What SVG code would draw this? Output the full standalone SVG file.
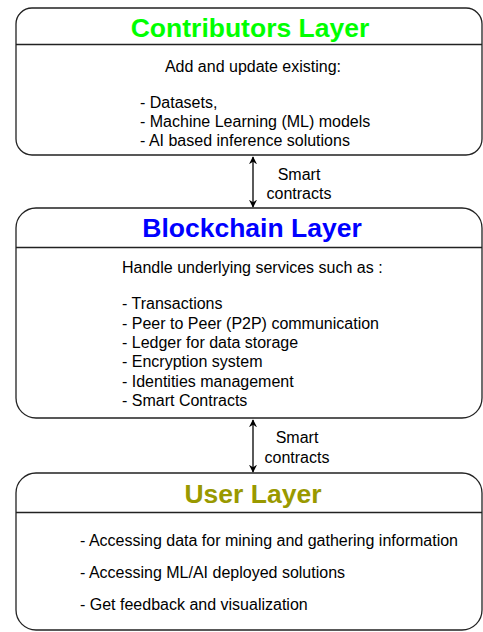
<svg xmlns="http://www.w3.org/2000/svg" width="483" height="632" viewBox="0 0 483 632">
<defs>
<style>
.box{fill:#fff;stroke:#222;stroke-width:1.3}
.div{stroke:#222;stroke-width:1.3}
.title{font-family:"Liberation Sans",Arial,sans-serif;font-weight:bold;font-size:26.5px;text-anchor:middle}
.t{font-family:"Liberation Sans",Arial,sans-serif;font-size:16px;fill:#000}
.lbl{font-family:"Liberation Sans",Arial,sans-serif;font-size:16px;fill:#000;text-anchor:middle}
.conn{stroke:#000;stroke-width:1.3;fill:none}
</style>
<marker id="ah" viewBox="0 0 10 10" refX="9" refY="5" markerWidth="8" markerHeight="8" orient="auto-start-reverse" markerUnits="userSpaceOnUse">
<path d="M0,0 L10,5 L0,10 L3,5 Z" fill="#000"/>
</marker>
</defs>
<rect width="483" height="632" fill="#fff"/>
<g id="contributors">
<rect class="box" x="16" y="8" width="466" height="147" rx="16"/>
<line class="div" x1="16" y1="44.5" x2="482" y2="44.5"/>
<text class="title" x="250" y="37" fill="#00ff00">Contributors Layer</text>
<text class="t" x="253" y="72" text-anchor="middle">Add and update existing:</text>
<text class="t" x="140" y="108">- Datasets,</text>
<text class="t" x="140" y="127">- Machine Learning (ML) models</text>
<text class="t" x="140" y="146">- AI based inference solutions</text>
</g>
<g id="blockchain">
<rect class="box" x="16" y="208" width="466" height="210" rx="20"/>
<line class="div" x1="16" y1="247.5" x2="482" y2="247.5"/>
<text class="title" x="252" y="237" fill="#0000ff">Blockchain Layer</text>
<text class="t" x="122" y="273">Handle underlying services such as :</text>
<text class="t" x="122" y="309">- Transactions</text>
<text class="t" x="122" y="329">- Peer to Peer (P2P) communication</text>
<text class="t" x="122" y="348">- Ledger for data storage</text>
<text class="t" x="122" y="367">- Encryption system</text>
<text class="t" x="122" y="387">- Identities management</text>
<text class="t" x="122" y="406">- Smart Contracts</text>
</g>
<g id="user">
<rect class="box" x="16" y="473" width="466" height="157" rx="20"/>
<line class="div" x1="16" y1="512.5" x2="482" y2="512.5"/>
<text class="title" x="253" y="503" fill="#999900">User Layer</text>
<text class="t" x="80" y="546">- Accessing data for mining and gathering information</text>
<text class="t" x="80" y="578">- Accessing ML/AI deployed solutions</text>
<text class="t" x="80" y="610">- Get feedback and visualization</text>
</g>
<g id="connectors">
<line class="conn" x1="253" y1="157" x2="253" y2="207" marker-start="url(#ah)" marker-end="url(#ah)"/>
<text class="lbl" x="299" y="180">Smart</text>
<text class="lbl" x="299" y="199">contracts</text>
<line class="conn" x1="253" y1="420" x2="253" y2="472" marker-start="url(#ah)" marker-end="url(#ah)"/>
<text class="lbl" x="297" y="443">Smart</text>
<text class="lbl" x="297" y="463">contracts</text>
</g>
</svg>
